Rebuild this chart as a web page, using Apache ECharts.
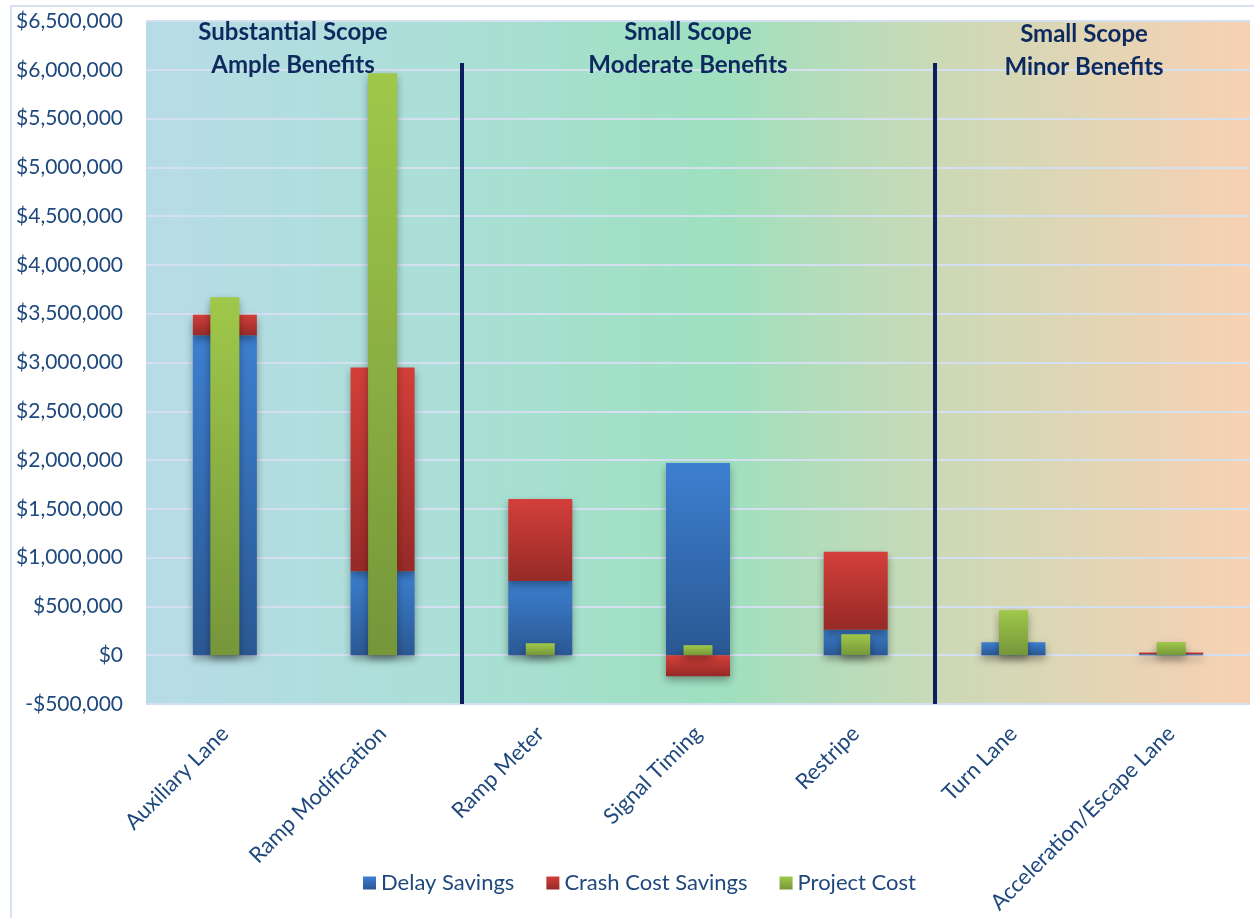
<!DOCTYPE html>
<html>
<head>
<meta charset="utf-8">
<script src="https://cdn.jsdelivr.net/npm/echarts@6/dist/echarts.min.js"></script>
<style>
html,body{margin:0;padding:0;background:#fff;}
#chart{width:1254px;height:918px;}
</style>
</head>
<body>
<div id="chart"></div>
<script>
const categories = ['Auxiliary Lane','Ramp Modification','Ramp Meter','Signal Timing','Restripe','Turn Lane','Acceleration/Escape Lane'];
const delaySavings = [3280000, 860000, 760000, 1970000, 260000, 133000, 10000];
const crashSavings = [210000, 2090000, 840000, -215000, 800000, 0, 18000];
const projectCost = [3670000, 5965000, 123000, 103000, 215000, 461000, 135000];
const separators = [2, 5];
const separatorTop = 6070000;
const groupHeaders = ['Substantial Scope\nAmple Benefits', 'Small Scope\nModerate Benefits', 'Small Scope\nMinor Benefits'];

const axisColor = '#1f497d';
const headColor = '#0d2a5e';
const font = 'Lato, "Open Sans", sans-serif';

function grad(top, bottom){
  return new echarts.graphic.LinearGradient(0,0,0,1,[{offset:0,color:top},{offset:1,color:bottom}]);
}
const shadow = {shadowBlur:8, shadowColor:'rgba(0,0,0,0.35)', shadowOffsetY:4};

const chart = echarts.init(document.getElementById('chart'));
chart.setOption({
  animation:false,
  textStyle:{fontFamily:font},
  grid:{left:146,right:4,top:21,bottom:214,show:true,borderWidth:0,
    backgroundColor:new echarts.graphic.LinearGradient(0,0,1,0,[
      {offset:0,color:'#b8dce7'},
      {offset:0.28,color:'#aadfd6'},
      {offset:0.52,color:'#9ee0bf'},
      {offset:0.72,color:'#ccd9b6'},
      {offset:1,color:'#f8d1b3'}
    ])},
  legend:{bottom:19,left:358,itemWidth:13,itemHeight:13,itemGap:32,
    textStyle:{color:axisColor,fontSize:22,fontFamily:font},
    data:[{name:'Delay Savings',icon:'rect'},{name:'Crash Cost Savings',icon:'rect'},{name:'Project Cost',icon:'rect'}]},
  xAxis:[
    {type:'category',data:categories,axisLine:{show:false},axisTick:{show:false},
      axisLabel:{rotate:45,interval:0,color:axisColor,fontSize:22,margin:26,fontFamily:font}},
    {type:'category',data:categories,show:false},
    {type:'value',min:0,max:7,show:false}
  ],
  yAxis:{type:'value',min:-500000,max:6500000,interval:500000,
    axisLine:{show:false},axisTick:{show:false},
    splitLine:{lineStyle:{color:'#d4dff0',width:2}},
    axisLabel:{color:axisColor,fontSize:21,margin:23,fontFamily:font,
      formatter:v=>(v<0?'-$':'$')+Math.abs(v).toLocaleString('en-US')}},
  graphic:[
    {type:'rect',shape:{x:11,y:6,width:1300,height:1000},style:{fill:'none',stroke:'#d6e2f2',lineWidth:2},z:-1},
    {type:'text',x:293,y:49,style:{text:groupHeaders[0],align:'center',verticalAlign:'middle',fill:headColor,font:'bold 24px '+font,lineHeight:33},z:10},
    {type:'text',x:688,y:49,style:{text:groupHeaders[1],align:'center',verticalAlign:'middle',fill:headColor,font:'bold 24px '+font,lineHeight:33},z:10},
    {type:'text',x:1084,y:51,style:{text:groupHeaders[2],align:'center',verticalAlign:'middle',fill:headColor,font:'bold 24px '+font,lineHeight:33},z:10}
  ],
  series:[
    {name:'Delay Savings',type:'bar',stack:'benefits',barWidth:64,data:delaySavings,
      itemStyle:Object.assign({color:grad('#3d7fd0','#2a5893')},shadow)},
    {name:'Crash Cost Savings',type:'bar',stack:'benefits',barWidth:64,data:crashSavings,
      itemStyle:Object.assign({color:grad('#d33f3a','#962a27')},shadow)},
    {name:'Project Cost',type:'bar',xAxisIndex:1,barWidth:29,data:projectCost,
      itemStyle:Object.assign({color:grad('#9fc84a','#76963a')},shadow)},
    {name:'sep',type:'scatter',xAxisIndex:2,data:[],silent:true,
      markLine:{silent:true,symbol:['none','none'],label:{show:false},
        lineStyle:{color:'#0b1f5e',width:4,type:'solid'},
        emphasis:{disabled:true},
        data:separators.map(s=>[{coord:[s,separatorTop]},{coord:[s,-500000]}])}}
  ]
});
</script>
</body>
</html>
